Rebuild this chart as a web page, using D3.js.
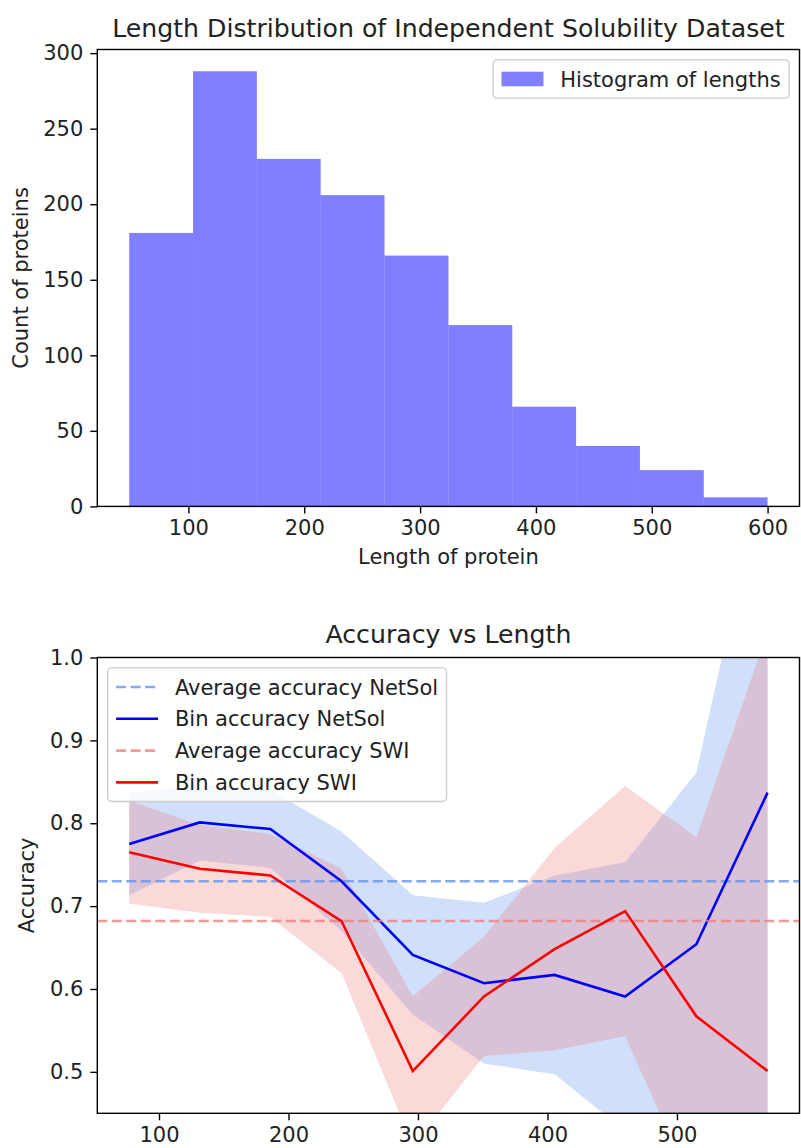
<!DOCTYPE html>
<html><head><meta charset="utf-8">
<script src="https://cdn.jsdelivr.net/npm/d3@7"></script>
<style>
html,body{margin:0;padding:0;background:#fff;}
svg{display:block;}
text{font-family:"DejaVu Sans",sans-serif;fill:#222;}
</style></head><body>
<svg id="chart" width="801" height="1148"></svg>
<script>
// ---------------- data ----------------
const histBinEdges = [48.9, 104.0, 159.1, 214.2, 269.3, 324.5, 379.6, 434.7, 489.8, 544.9, 600.0];
const histCounts   = [181, 288, 230, 206, 166, 120, 66, 40, 24, 6];
const histXTicks   = [100, 200, 300, 400, 500, 600];
const histYTicks   = [0, 50, 100, 150, 200, 250, 300];

const binCenters = [77, 131.5, 186, 241, 296, 351, 405.5, 460, 515, 570];
const netsolAcc  = [0.775, 0.801, 0.793, 0.730, 0.641, 0.607, 0.617, 0.591, 0.654, 0.837];
const netsolErr  = [0.062, 0.046, 0.047, 0.060, 0.072, 0.097, 0.120, 0.162, 0.207, 0.410];
const swiAcc     = [0.765, 0.745, 0.737, 0.682, 0.501, 0.591, 0.648, 0.694, 0.567, 0.501];
const swiErr     = [0.062, 0.053, 0.050, 0.063, 0.090, 0.072, 0.122, 0.151, 0.216, 0.530];
const netsolAvg  = 0.730;
const swiAvg     = 0.682;
const accXTicks  = [100, 200, 300, 400, 500];
const accYTicks  = [0.5, 0.6, 0.7, 0.8, 0.9, 1.0];
const accYLim    = [0.45, 1.0];

// ---------------- layout ----------------
const FS = 21, TFS = 25.2;
const svg = d3.select("#chart");

function spines(g, box){
  g.append("rect").attr("x",box.left).attr("y",box.top)
    .attr("width",box.right-box.left).attr("height",box.bottom-box.top)
    .attr("fill","none").attr("stroke","#000").attr("stroke-width",1.4);
}
function styleAxis(sel){
  sel.select(".domain").remove();
  sel.selectAll(".tick line").attr("stroke","#000").attr("stroke-width",1.4);
  sel.selectAll(".tick text").attr("font-size",FS).attr("fill","#222")
     .style("font-family","DejaVu Sans");
}
function legend(g, x, y, items, anchorRight){
  const pad = 8.4, handleLen = 42, textPad = 16.8, rowH = 21.4, rowGap = 10.4;
  const lg = g.append("g");
  const frame = lg.append("rect");
  const texts = [];
  items.forEach((it,i)=>{
    const cy = pad + rowH/2 + i*(rowH+rowGap);
    if(it.type==="patch"){
      lg.append("rect").attr("x",pad).attr("y",cy-7.3).attr("width",handleLen).attr("height",14.6)
        .attr("fill",it.color).attr("fill-opacity",it.opacity);
    } else {
      lg.append("line").attr("x1",pad).attr("x2",pad+handleLen).attr("y1",cy).attr("y2",cy)
        .attr("stroke",it.color).attr("stroke-opacity",it.opacity||1).attr("stroke-width",2.6)
        .attr("stroke-dasharray",it.dash||null);
    }
    const t = lg.append("text").attr("x",pad+handleLen+textPad).attr("y",cy)
      .attr("dy","0.36em").attr("font-size",FS).text(it.label);
    texts.push(t);
  });
  const tw = d3.max(texts, t=>t.node().getComputedTextLength());
  const w = pad*2 + handleLen + textPad + tw;
  const h = pad*2 + items.length*rowH + (items.length-1)*rowGap;
  frame.attr("x",0).attr("y",0).attr("width",w).attr("height",h).attr("rx",4)
    .attr("fill","#fff").attr("fill-opacity",0.8).attr("stroke","#ccc").attr("stroke-width",1.4);
  lg.attr("transform",`translate(${anchorRight? x-w : x},${y})`);
}

// ---------------- top: histogram ----------------
const T = {left:97.3, right:799.5, top:49.5, bottom:506.4};
const lo = histBinEdges[0], hi = histBinEdges[histBinEdges.length-1];
const xT = d3.scaleLinear().domain([lo-0.05*(hi-lo), hi+0.05*(hi-lo)]).range([T.left,T.right]);
const yT = d3.scaleLinear().domain([0, d3.max(histCounts)*1.05]).range([T.bottom,T.top]);
const gT = svg.append("g");
gT.selectAll("rect.bar").data(histCounts).join("rect").attr("class","bar")
  .attr("x",(d,i)=>xT(histBinEdges[i])).attr("width",(d,i)=>xT(histBinEdges[i+1])-xT(histBinEdges[i]))
  .attr("y",d=>yT(d)).attr("height",d=>yT(0)-yT(d))
  .attr("fill","blue").attr("fill-opacity",0.5);
gT.append("g").attr("transform",`translate(0,${T.bottom})`)
  .call(d3.axisBottom(xT).tickValues(histXTicks).tickSize(7).tickPadding(7).tickFormat(d3.format("d")))
  .call(styleAxis);
gT.append("g").attr("transform",`translate(${T.left},0)`)
  .call(d3.axisLeft(yT).tickValues(histYTicks).tickSize(7).tickPadding(7).tickFormat(d3.format("d")))
  .call(styleAxis);
spines(gT,T);
gT.append("text").attr("x",(T.left+T.right)/2).attr("y",37).attr("text-anchor","middle")
  .attr("font-size",TFS).text("Length Distribution of Independent Solubility Dataset");
gT.append("text").attr("x",(T.left+T.right)/2).attr("y",564).attr("text-anchor","middle")
  .attr("font-size",FS).text("Length of protein");
gT.append("text").attr("transform",`translate(28,${(T.top+T.bottom)/2}) rotate(-90)`)
  .attr("text-anchor","middle").attr("font-size",FS).text("Count of proteins");
legend(gT, T.right-10.4, T.top+10.4,
  [{type:"patch",color:"blue",opacity:0.5,label:"Histogram of lengths"}], true);

// ---------------- bottom: accuracy ----------------
const B = {left:97.3, right:799.5, top:657.5, bottom:1113.3};
const bl = binCenters[0], bh = binCenters[binCenters.length-1];
const xB = d3.scaleLinear().domain([bl-0.05*(bh-bl), bh+0.05*(bh-bl)]).range([B.left,B.right]);
const yB = d3.scaleLinear().domain(accYLim).range([B.bottom,B.top]);
const gB = svg.append("g");
svg.append("defs").append("clipPath").attr("id","clipB").append("rect")
  .attr("x",B.left).attr("y",B.top).attr("width",B.right-B.left).attr("height",B.bottom-B.top);
const plot = gB.append("g").attr("clip-path","url(#clipB)");
const idx = d3.range(binCenters.length);
const band = (acc,err)=>d3.area().x(i=>xB(binCenters[i])).y0(i=>yB(acc[i]-err[i])).y1(i=>yB(acc[i]+err[i]))(idx);
const line = (acc)=>d3.line().x(i=>xB(binCenters[i])).y(i=>yB(acc[i]))(idx);
plot.append("path").attr("d",band(netsolAcc,netsolErr)).attr("fill","cornflowerblue").attr("fill-opacity",0.3);
plot.append("path").attr("d",band(swiAcc,swiErr)).attr("fill","lightcoral").attr("fill-opacity",0.3);
const dash = "10,4.5";
plot.append("line").attr("x1",B.left).attr("x2",B.right).attr("y1",yB(netsolAvg)).attr("y2",yB(netsolAvg))
  .attr("stroke","cornflowerblue").attr("stroke-opacity",0.8).attr("stroke-width",2.6).attr("stroke-dasharray",dash);
plot.append("path").attr("d",line(netsolAcc)).attr("fill","none").attr("stroke","blue").attr("stroke-width",2.6);
plot.append("line").attr("x1",B.left).attr("x2",B.right).attr("y1",yB(swiAvg)).attr("y2",yB(swiAvg))
  .attr("stroke","lightcoral").attr("stroke-opacity",0.8).attr("stroke-width",2.6).attr("stroke-dasharray",dash);
plot.append("path").attr("d",line(swiAcc)).attr("fill","none").attr("stroke","red").attr("stroke-width",2.6);

gB.append("g").attr("transform",`translate(0,${B.bottom})`)
  .call(d3.axisBottom(xB).tickValues(accXTicks).tickSize(7).tickPadding(7).tickFormat(d3.format("d")))
  .call(styleAxis);
gB.append("g").attr("transform",`translate(${B.left},0)`)
  .call(d3.axisLeft(yB).tickValues(accYTicks).tickSize(7).tickPadding(7).tickFormat(d3.format(".1f")))
  .call(styleAxis);
spines(gB,B);
gB.append("text").attr("x",(B.left+B.right)/2).attr("y",643).attr("text-anchor","middle")
  .attr("font-size",TFS).text("Accuracy vs Length");
gB.append("text").attr("transform",`translate(34,${(B.top+B.bottom)/2}) rotate(-90)`)
  .attr("text-anchor","middle").attr("font-size",FS).text("Accuracy");
legend(gB, B.left+10.4, B.top+10.4, [
  {type:"line",color:"cornflowerblue",opacity:0.8,dash:dash,label:"Average accuracy NetSol"},
  {type:"line",color:"blue",label:"Bin accuracy NetSol"},
  {type:"line",color:"lightcoral",opacity:0.8,dash:dash,label:"Average accuracy SWI"},
  {type:"line",color:"red",label:"Bin accuracy SWI"}
], false);
</script>
</body></html>
